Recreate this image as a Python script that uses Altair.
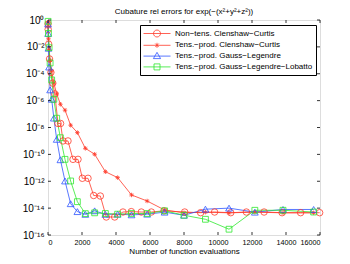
import altair as alt
import pandas as pd

# ---------------- data ----------------
series_names = [
    "Non−tens. Clenshaw−Curtis",
    "Tens.−prod. Clenshaw−Curtis",
    "Tens.−prod. Gauss−Legendre",
    "Tens.−prod. Gauss−Legendre−Lobatto",
]
colors = ["#ff3a2a", "#ff3a2a", "#2f55ff", "#2ee82e"]

# non-tensor (sparse) Clenshaw-Curtis: N and -log10(error)
cc_sparse_n = [1, 10, 40, 90, 170, 280, 400, 590, 740, 882, 1176, 1471, 1765,
               2020, 2353, 2686, 3078, 3430, 3922, 4410, 4900, 5490, 6080, 6820,
               8040, 8980, 9800, 10750, 11670, 12710, 13770, 14860, 15980]
cc_sparse_e = [0.3, 0.7, 1.8, 2.9, 3.9, 4.7, 5.5, 7.7, 7.7, 9.0, 9.0, 10.37, 10.37,
               11.78, 11.78, 13.06, 13.1, 14.66, 14.66, 14.29, 14.26, 14.29, 14.29, 14.2,
               14.29, 14.34, 14.29, 14.34, 14.29, 14.29, 14.34, 14.34, 14.34]

tens_n = [1, 8, 27, 64, 125, 216, 343, 512, 729, 1000, 1331, 1728, 2197, 2744, 3375,
          4096, 4913, 5832, 6859, 8000, 9261, 10648, 12167, 13824, 15625]
cc_tens_e = [0.2, 0.5, 1.4, 2.2, 3.0, 3.8, 4.7, 5.5, 6.27, 6.71, 7.83, 8.38, 9.55, 9.99,
             11.29, 11.73, 13.02, 13.47, 14.14, 14.35, 14.3, 14.35, 14.3, 14.35, 14.35]
gl_e = [0.3, 1.0, 2.1, 3.5, 5.2, 5.9, 7.3, 8.88, 10.4, 11.98, 13.67, 14.26, 14.46, 14.2,
        14.46, 14.45, 14.5, 14.45, 14.3, 14.53, 14.08, 14.0, 14.3, 14.1, 14.1]
gll_n = [8, 27, 64, 125, 216, 343, 512, 729, 1000, 1331, 1728, 2197, 2744, 3375,
         4096, 4913, 5832, 6859, 8000, 9261, 10648, 12167, 13824, 15625]
gll_e = [0.1, 1.0, 2.06, 3.2, 4.46, 5.9, 7.31, 8.76, 10.37, 11.98, 13.52, 14.41, 14.35,
         14.4, 14.45, 14.4, 14.4, 14.2, 14.53, 14.83, 15.57, 14.16, 14.16, 14.29]

x_ticks = [0, 2000, 4000, 6000, 8000, 10000, 12000, 14000, 16000]
y_ticks = [1e0, 1e-2, 1e-4, 1e-6, 1e-8, 1e-10, 1e-12, 1e-14, 1e-16]

title_text = "Cubature rel errors for exp(−(x²+y²+z²))"
x_title = "Number of function evaluations"

# ---------------- table ----------------
rows = []
for name, ns, es in [
    (series_names[0], cc_sparse_n, cc_sparse_e),
    (series_names[1], tens_n, cc_tens_e),
    (series_names[2], tens_n, gl_e),
    (series_names[3], gll_n, gll_e),
]:
    for n, e in zip(ns, es):
        rows.append({"n": n, "err": 10 ** (-e), "series": name})
df = pd.DataFrame(rows)

W, H = 272, 215
FONT = "Liberation Sans"

asterisk = "M-1,0H1M0,-1V1M-0.7,-0.7L0.7,0.7M-0.7,0.7L0.7,-0.7"
marker_shapes = ["circle", asterisk, "triangle-up", "square"]
marker_sizes = [42, 20, 46, 34]

# legend symbols: unit = 5 px (symbolSize 100); line 27 px long, marker in its middle
legend_paths = [
    "M-1,0H4.4M2.4,0A0.7,0.7 0 1,1 1.0,0A0.7,0.7 0 1,1 2.4,0",
    "M-1,0H4.4M1.7,-0.5V0.5M1.35,-0.35L2.05,0.35M1.35,0.35L2.05,-0.35",
    "M-1,0H4.4M1.7,-0.75L2.42,0.5H0.98Z",
    "M-1,0H4.4M1.1,-0.6H2.3V0.6H1.1Z",
]

x_scale = alt.Scale(domain=[0, 16000], nice=False, zero=False)
y_scale = alt.Scale(type="log", domain=[1e-16, 1], nice=False)

x_axis = alt.Axis(values=x_ticks, format="d", ticks=False, domain=False, grid=False,
                  title=x_title, labelPadding=3, titlePadding=2, labelOverlap=False,
                  labelFontSize=7.2, titleFontWeight="normal", titleFont=FONT, titleFontSize=8)
y_axis = alt.Axis(values=y_ticks, ticks=False, domain=False, grid=False, title=None,
                  labelPadding=4, labelOverlap=False,
                  labelExpr="'10' + replace(replace(replace(replace(replace(replace(replace(replace("
                            "'' + round(log(datum.value)/LN10), '-', '⁻'), '0', '⁰'), '1', '¹'), '2', '²'),"
                            " '4', '⁴'), '6', '⁶'), '8', '⁸'), '3', '³')")

X = alt.X("n:Q", scale=x_scale, axis=x_axis)
Y = alt.Y("err:Q", scale=y_scale, axis=y_axis)

layers = []
for i, name in enumerate(series_names):
    sub = df[df.series == name]
    layers.append(alt.Chart(sub).mark_line(color=colors[i], strokeWidth=0.8).encode(x=X, y=Y))
for i, name in enumerate(series_names):
    sub = df[df.series == name]
    layers.append(
        alt.Chart(sub).mark_point(shape=marker_shapes[i], size=marker_sizes[i], color=colors[i],
                                  filled=False, strokeWidth=0.8, opacity=1).encode(x=X, y=Y))

legend = alt.Legend(title=None, orient="none", legendX=92, legendY=5, strokeColor="black",
                    fillColor="white", padding=3, symbolSize=100, symbolStrokeWidth=0.8,
                    symbolOpacity=1, labelFontSize=8, labelFont=FONT, rowPadding=0.8,
                    labelOffset=21, labelLimit=250, cornerRadius=0, labelColor="black")
layers.append(
    alt.Chart(df).mark_point(filled=False, opacity=0, strokeWidth=0.8).encode(
        x=X, y=Y,
        color=alt.Color("series:N", scale=alt.Scale(domain=series_names, range=colors), legend=legend),
        shape=alt.Shape("series:N", scale=alt.Scale(domain=series_names, range=legend_paths), legend=legend),
    )
)

# inward ticks on all four sides
xt = pd.DataFrame({"n": x_ticks})
yt = pd.DataFrame({"err": y_ticks})
tick_style = dict(color="black", strokeWidth=0.8)
layers.append(alt.Chart(xt).mark_rule(**tick_style).encode(x=X, y=alt.value(H), y2=alt.value(H - 3)))
layers.append(alt.Chart(xt).mark_rule(**tick_style).encode(x=X, y=alt.value(0), y2=alt.value(3)))
layers.append(alt.Chart(yt).mark_rule(**tick_style).encode(y=Y, x=alt.value(0), x2=alt.value(3)))
layers.append(alt.Chart(yt).mark_rule(**tick_style).encode(y=Y, x=alt.value(W), x2=alt.value(W - 3)))

chart = alt.layer(*layers).properties(
    width=W, height=H,
    title=alt.TitleParams(title_text, fontSize=8, fontWeight="normal", font=FONT,
                          anchor="middle", offset=-1, color="black"),
    padding={"left": 14, "top": 0, "right": 0, "bottom": 0},
).configure_view(stroke="black", strokeWidth=0.8).configure_axis(
    labelFont=FONT, labelFontSize=8, labelColor="black", titleFont=FONT, titleFontSize=8,
    titleFontWeight="normal", titleColor="black"
).configure(background="white")

chart.save("out.html", embed_options={"renderer": "svg", "actions": False})
